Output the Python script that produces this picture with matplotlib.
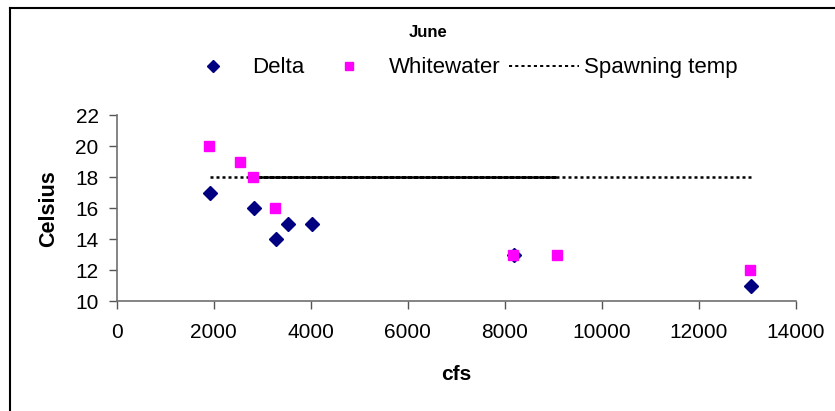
import matplotlib.pyplot as plt
from matplotlib.lines import Line2D

plt.rcParams['font.family'] = ['Liberation Sans', 'DejaVu Sans']

# data
delta_cfs = [1920, 2830, 3290, 3530, 4030, 8200, 13070]
delta_temp = [17, 16, 14, 15, 15, 13, 11]
white_cfs = [1910, 2550, 2800, 3260, 8180, 9070, 13060]
white_temp = [20, 19, 18, 16, 13, 13, 12]
# spawning temp series (drawn back and forth, so dashes overlap in the middle)
spawn_cfs = [1930, 9070, 2800, 13070]
spawn_temp = [18, 18, 18, 18]

xticks = [0, 2000, 4000, 6000, 8000, 10000, 12000, 14000]
yticks = [10, 12, 14, 16, 18, 20, 22]

fig = plt.figure(figsize=(8.35, 4.11), dpi=100)
ax = fig.add_axes([0.1398, 0.2676, 0.8132, 0.4519])

ax.plot(spawn_cfs, spawn_temp, color='black', lw=1.8, ls=(0, (1.2, 1.2)))
ax.plot(delta_cfs, delta_temp, 'D', color='#000080', ms=7)
ax.plot(white_cfs, white_temp, 's', color='#FF00FF', ms=7)

ax.set_xlim(0, 14000)
ax.set_ylim(10, 22)
ax.set_xticks(xticks)
ax.set_yticks(yticks)
ax.tick_params(labelsize=15, length=6, color='#555555', width=1)
ax.tick_params(axis='x', pad=10)
ax.tick_params(axis='y', pad=7)
for s in ['top', 'right']:
    ax.spines[s].set_visible(False)
for s in ['left', 'bottom']:
    ax.spines[s].set_color('#707070')
    ax.spines[s].set_linewidth(1.2)

ax.set_xlabel('cfs', fontsize=15, fontweight='bold', va='center')
ax.set_ylabel('Celsius', fontsize=15.5, fontweight='bold', va='center')
ax.xaxis.set_label_coords(0.5, -0.395)
ax.yaxis.set_label_coords(-0.101, 0.5)

fig.text(0.513, 0.92, 'June', ha='center', va='center', fontsize=12, fontweight='bold')

handles = [
    Line2D([], [], marker='D', color='#000080', ls='none', ms=6),
    Line2D([], [], marker='s', color='#FF00FF', ls='none', ms=6),
    Line2D([], [], color='black', lw=1.4, ls=(0, (1.6, 1.6))),
]
fig.legend(handles, ['Delta', 'Whitewater', 'Spawning temp'], loc='center',
           bbox_to_anchor=(0.548, 0.835), ncol=3, frameon=False, fontsize=16,
           handlelength=3.15, handletextpad=0.22, columnspacing=0.4)

# Excel-style outer frame (top and left edges visible)
fig.add_artist(Line2D([0.012, 1.0], [0.981, 0.981], color='black', lw=1.5, transform=fig.transFigure))
fig.add_artist(Line2D([0.012, 0.012], [0.0, 0.981], color='black', lw=1.5, transform=fig.transFigure))

fig.savefig('out.png', dpi=100)
